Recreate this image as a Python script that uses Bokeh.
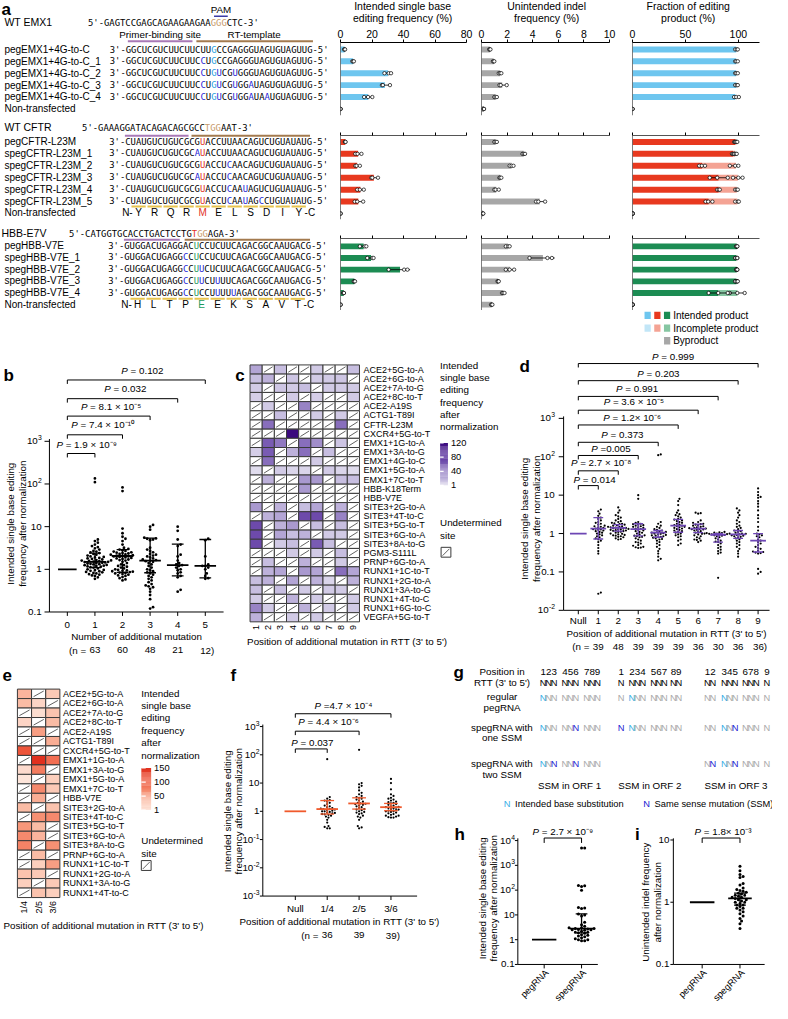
import math
from bokeh.plotting import figure
from bokeh.layouts import row, column
from bokeh.models import Range1d, FixedTicker, Label, Span, Spacer
from bokeh.embed import file_html
from bokeh.resources import INLINE

SX = 772 / 788
SY = 1003 / 1019
SANS = "Liberation Sans"
MONO = "DejaVu Sans Mono"
FS = "9.8px"

# ======================= DATA =======================
# ---- panel a: sequences ----
emx1_wt = "GAGTCCGAGCAGAAGAAGAAGGGCTC"
emx1_wt_marks = {20: "t", 21: "t", 22: "t"}
emx1_names = ["pegEMX1+4G-to-C", "pegEMX1+4G-to-C_1", "pegEMX1+4G-to-C_2",
              "pegEMX1+4G-to-C_3", "pegEMX1+4G-to-C_4", "Non-transfected"]
emx1_seqs = ["GGCUCGUCUUCUUCUUGCCGAGGGUAGUGUAGUUG", "GGCUCGUCUUCUUCCUGCCGAGGGUAGUGUAGUUG",
             "GGCUCGUCUUCUUCCUGUCGUGGGUAGUGUAGUUG", "GGCUCGUCUUCUUCCUGUCGUGGAUAGUGUAGUUG",
             "GGCUCGUCUUCUUCCUGUCGUGGAUAAUGUAGUUG"]
emx1_marks = [{16: "c"}, {14: "b", 16: "c"}, {14: "b", 16: "c", 17: "b", 20: "b"},
              {14: "b", 16: "c", 17: "b", 20: "b", 23: "b"},
              {14: "b", 16: "c", 17: "b", 20: "b", 23: "b", 26: "b"}]

cftr_wt = "GAAAGGATACAGACAGCGCCTGGAAT"
cftr_wt_marks = {20: "t", 21: "t", 22: "t"}
cftr_names = ["pegCFTR-L23M", "spegCFTR-L23M_1", "spegCFTR-L23M_2", "spegCFTR-L23M_3",
              "spegCFTR-L23M_4", "spegCFTR-L23M_5", "Non-transfected"]
cftr_seqs = ["CUAUGUCUGUCGCGUACCUUAACAGUCUGUAUAUG", "CUAUGUCUGUCGCAUACCUUAACAGUCUGUAUAUG",
             "CUAUGUCUGUCGCGUACCUCAACAGUCUGUAUAUG", "CUAUGUCUGUCGCAUACCUCAACAGUCUGUAUAUG",
             "CUAUGUCUGUCGCGUACCUCAAUAGUCUGUAUAUG", "CUAUGUCUGUCGCGUACCUCAAUAGCCUGUAUAUG"]
cftr_marks = [{14: "r"}, {13: "b", 14: "r"}, {14: "r", 19: "b"}, {13: "b", 14: "r", 19: "b"},
              {14: "r", 19: "b", 22: "b"}, {14: "r", 19: "b", 22: "b", 25: "b"}]
cftr_aa = ["Y", "R", "Q", "R", "M", "E", "L", "S", "D", "I", "Y"]

hbb_wt = "CATGGTGCACCTGACTCCTGTGGAGA"
hbb_wt_marks = {20: "r", 21: "t", 22: "t"}
hbb_names = ["pegHBB-V7E", "spegHBB-V7E_1", "spegHBB-V7E_2", "spegHBB-V7E_3",
             "spegHBB-V7E_4", "Non-transfected"]
hbb_seqs = ["GUGGACUGAGGACUCCUCUUCAGACGGCAAUGACG", "GUGGACUGAGGCCUCCUCUUCAGACGGCAAUGACG",
            "GUGGACUGAGGCCUUCUCUUCAGACGGCAAUGACG", "GUGGACUGAGGCCUUCUUUUCAGACGGCAAUGACG",
            "GUGGACUGAGGCCUCCUUUUUAGACGGCAAUGACG"]
hbb_marks = [{13: "g"}, {11: "b", 13: "g"}, {11: "b", 13: "g", 14: "b"},
             {11: "b", 13: "g", 14: "b", 17: "b"}, {11: "b", 13: "g", 17: "b", 20: "b"}]
hbb_aa = ["H", "L", "T", "P", "E", "E", "K", "S", "A", "V", "T"]

# ---- panel a: bar values ----
int_mean = [[2.6, 8.0, 30.2, 28.2, 17.6, 0.0],
            [3.0, 11.2, 10.6, 21.2, 12.6, 11.3, 0.0],
            [14.7, 19.4, 37.8, 8.8, 2.0, 0.0]]
int_reps = [[[2.3, 2.6, 2.9], [7.5, 8.0, 8.5], [27.9, 30.6, 32.1], [26.3, 26.9, 31.4], [15.0, 17.5, 20.2], [0, 0, 0]],
            [[2.8, 3.0, 3.2], [9.4, 10.8, 13.3], [9.4, 10.2, 12.3], [19.6, 20.2, 23.8], [10.6, 12.3, 14.8], [9.0, 10.6, 14.4], [0, 0, 0]],
            [[12.3, 15.4, 16.4], [17.0, 20.2, 21.0], [30.6, 40.4, 42.5], [8.4, 8.8, 9.2], [1.8, 2.0, 2.2], [0, 0, 0]]]
indel_mean = [[0.65, 0.95, 1.45, 1.62, 1.1, 0.18],
              [1.1, 3.3, 2.35, 1.47, 1.15, 4.55, 0.12],
              [2.07, 4.8, 2.22, 1.3, 1.7, 0.8]]
indel_reps = [[[0.6, 0.65, 0.7], [0.9, 0.95, 1.0], [1.35, 1.45, 1.55], [1.4, 1.5, 1.97], [1.0, 1.1, 1.2], [0.15, 0.18, 0.2]],
              [[1.0, 1.1, 1.2], [3.2, 3.3, 3.4], [2.2, 2.35, 2.5], [1.4, 1.45, 1.55], [1.0, 1.1, 1.35], [4.26, 4.44, 4.97], [0.1, 0.12, 0.14]],
              [[1.9, 2.1, 2.2], [3.75, 5.15, 5.5], [1.9, 2.2, 2.55], [1.25, 1.3, 1.35], [1.6, 1.7, 1.8], [0.75, 0.8, 0.85]]]
frac_int = [[98, 98, 98, 98, 97, 0], [97, 95, 65.7, 81.5, 81.5, 72, 0], [98.5, 98, 98.5, 98, 81, 0]]
frac_inc = [[0, 0, 0, 0.5, 1, 0], [1, 2, 32, 18, 17, 27, 0], [0, 0.5, 0, 0.5, 18, 0]]
frac_int_reps = [[[97, 98.5, 99.5], [97, 98, 99.5], [97, 98, 99.5], [97, 98.5, 99.5], [96, 98, 100.5], [0, 0, 0]],
                 [[96, 97, 98], [94, 95, 96.5], [63, 65.5, 68.5], [73, 80, 90], [80, 81.5, 82.5], [69, 71.5, 75.5], [0, 0, 0]],
                 [[98, 98.5, 99], [97, 98, 99], [98, 98.5, 99], [97, 98.5, 99], [72, 81, 92], [0, 0, 0]]]
frac_tot_reps = [None,
                 [[97, 98, 99], [96, 97.5, 98.5], [92, 97, 100], [95, 100, 104], [97, 98.5, 99.5], [97, 99.5, 100.5], [0, 0, 0]],
                 [[98, 98.5, 99], [97, 98.5, 99], [98, 98.5, 99], [97, 98.5, 99.5], [90, 99, 106], [0, 0, 0]]]

# ---- panel b ----
b_labels = ["0", "1", "2", "3", "4", "5"]
b_n = ["(n =", "63", "60", "48", "21", "12)"]
b_yticks = [0.1, 1, 10, 100, 1000]
b_ytl = [("0.1", ""), ("1", ""), ("10", ""), ("10", "2"), ("10", "3")]
b_vals = [
    [135, 110, 5.0, 4.6, 4.2, 3.8, 3.5, 3.3, 3.1, 2.9, 2.7, 2.6, 2.5, 2.4, 2.3, 2.2, 2.1, 2.0, 1.95, 1.9, 1.85,
     1.8, 1.75, 1.7, 1.65, 1.62, 1.6, 1.57, 1.55, 1.52, 1.5, 1.48, 1.45, 1.42, 1.4, 1.37, 1.35, 1.32, 1.3, 1.27,
     1.25, 1.22, 1.2, 1.17, 1.15, 1.12, 1.1, 1.05, 1.0, 0.97, 0.95, 0.92, 0.9, 0.87, 0.85, 0.82, 0.8, 0.77, 0.75,
     0.72, 0.7, 0.65, 0.6],
    [83, 68, 9.0, 7.0, 5.8, 5.2, 4.6, 3.8, 3.2, 3.0, 2.9, 2.8, 2.7, 2.6, 2.5, 2.45, 2.4, 2.35, 2.3, 2.25, 2.2,
     2.15, 2.1, 2.05, 2.0, 2.0, 1.95, 1.9, 1.85, 1.8, 1.75, 1.7, 1.65, 1.6, 1.5, 1.4, 1.3, 1.25, 1.2, 1.15, 1.1,
     1.05, 1.0, 0.97, 0.94, 0.92, 0.9, 0.88, 0.86, 0.84, 0.82, 0.8, 0.78, 0.75, 0.72, 0.7, 0.66, 0.62, 0.58, 0.55],
    [11, 10, 8.5, 5.5, 5.3, 5.2, 5.0, 4.8, 3.2, 2.9, 2.7, 2.5, 2.3, 2.2, 2.1, 2.0, 1.9, 1.8, 1.7, 1.65, 1.6,
     1.55, 1.5, 1.4, 1.3, 1.2, 1.1, 1.0, 0.95, 0.9, 0.85, 0.8, 0.75, 0.7, 0.65, 0.6, 0.55, 0.5, 0.45, 0.42, 0.4,
     0.38, 0.35, 0.3, 0.25, 0.2, 0.13, 0.12],
    [10, 8, 5, 3.8, 3.5, 2.2, 2.0, 1.6, 1.4, 1.3, 1.25, 1.2, 1.1, 1.0, 0.95, 0.85, 0.8, 0.7, 0.65, 0.33, 0.3],
    [5.2, 4.8, 2.0, 1.3, 1.2, 1.2, 1.1, 1.0, 0.8, 0.7, 0.62, 0.6],
]
b_med = [1.5, 2.05, 1.6, 1.25, 1.2]
b_lo = [1.1, 0.85, 0.83, 0.7, 0.63]
b_hi = [2.4, 2.9, 5.4, 3.9, 5.0]
b_p = ["0.102", "0.032", "8.1 × 10⁻⁵", "7.4 × 10⁻¹⁰", "1.9 × 10⁻⁹"]
b_p_to = [5, 4, 3, 2, 1]

# ---- panel c ----
c_names = ["ACE2+5G-to-A", "ACE2+6G-to-A", "ACE2+7A-to-G", "ACE2+8C-to-T", "ACE2-A19S", "ACTG1-T89I",
           "CFTR-L23M", "CXCR4+5G-to-T", "EMX1+1G-to-A", "EMX1+3A-to-G", "EMX1+4G-to-C", "EMX1+5G-to-A",
           "EMX1+7C-to-T", "HBB-K18Term", "HBB-V7E", "SITE3+2G-to-A", "SITE3+4T-to-C", "SITE3+5G-to-T",
           "SITE3+6G-to-A", "SITE3+8A-to-G", "PGM3-S111L", "PRNP+6G-to-A", "RUNX1+1C-to-T", "RUNX1+2G-to-A",
           "RUNX1+3A-to-G", "RUNX1+4T-to-C", "RUNX1+6G-to-C", "VEGFA+5G-to-T"]
N = None
c_vals = [
    [25, N, 15, N, N, 10, N, N, 15],
    [15, 20, N, 12, N, 10, 10, 12, N],
    [10, N, 12, 10, 15, N, 10, 10, 10],
    [8, N, N, 10, N, 8, N, N, 10],
    [N, 10, N, N, 40, N, N, N, N],
    [N, N, 15, N, N, 10, N, 10, N],
    [N, 50, N, N, N, N, N, 50, N],
    [N, N, N, 120, N, N, N, N, N],
    [N, 60, 45, N, 50, 35, N, 12, N],
    [8, 60, N, 20, 50, N, 15, N, N],
    [N, 50, N, N, N, 10, N, N, N],
    [2, N, 10, 5, 5, N, 10, 5, 2],
    [N, 20, N, N, 30, 30, N, 15, 15],
    [N, N, N, N, 30, N, N, N, N],
    [N, N, N, N, N, N, N, N, N],
    [30, N, 20, N, 15, 25, N, 20, N],
    [N, 20, 25, N, 70, 70, N, 40, N],
    [70, N, 20, 30, N, 15, N, 15, N],
    [70, N, 25, 15, 20, N, 10, 10, N],
    [70, N, 10, 15, N, 60, 15, N, N],
    [N, N, N, 10, N, 10, N, 15, N],
    [N, 15, N, N, 20, N, N, 10, N],
    [N, 20, 25, N, 30, 25, N, 50, 25],
    [15, 20, N, 25, N, 20, 5, N, 20],
    [15, N, 15, N, 10, N, 10, 10, N],
    [10, N, N, 20, N, 10, N, N, 10],
    [40, 10, N, N, 20, N, 10, N, 10],
    [20, N, N, 10, N, 10, N, N, N],
]
c_cols = ["1", "2", "3", "4", "5", "6", "7", "8", "9"]
c_ticks = [1, 40, 80, 120]

# ---- panel d ----
d_labels = ["Null", "1", "2", "3", "4", "5", "6", "7", "8", "9"]
d_n = ["(n =", "39", "48", "39", "39", "39", "36", "30", "36", "36)"]
d_yticks = [0.01, 0.1, 1, 10, 100, 1000]
d_ytl = [("10", "-2"), ("0.1", ""), ("1", ""), ("10", ""), ("10", "2"), ("10", "3")]
d_vals = [
    [4.2, 3.8, 3.3, 2.9, 2.6, 2.4, 2.2, 2.0, 1.9, 1.8, 1.7, 1.6, 1.55, 1.5, 1.45, 1.4, 1.35, 1.3, 1.28, 1.25, 1.2,
     1.15, 1.1, 1.05, 1.0, 0.95, 0.9, 0.85, 0.8, 0.75, 0.7, 0.65, 0.6, 0.5, 0.42, 0.35, 0.3, 0.029, 0.027],
    [4.8, 4.0, 3.5, 3.0, 2.8, 2.6, 2.4, 2.2, 2.1, 2.0, 1.9, 1.85, 1.8, 1.75, 1.7, 1.65, 1.6, 1.55, 1.5, 1.48,
     1.45, 1.42, 1.4, 1.38, 1.35, 1.32, 1.3, 1.28, 1.25, 1.22, 1.2, 1.18, 1.15, 1.12, 1.1, 1.05, 1.0, 0.98, 0.95,
     0.92, 0.9, 0.88, 0.85, 0.82, 0.8, 0.75, 0.72, 0.7],
    [10, 8, 2.0, 1.9, 1.8, 1.75, 1.7, 1.65, 1.6, 1.55, 1.5, 1.45, 1.4, 1.35, 1.3, 1.25, 1.2, 1.15, 1.1, 1.05, 1.0,
     0.95, 0.9, 0.88, 0.85, 0.82, 0.8, 0.75, 0.7, 0.65, 0.6, 0.58, 0.55, 0.5, 0.48, 0.45, 0.44, 0.43, 0.42],
    [115, 110, 2.0, 1.8, 1.6, 1.5, 1.4, 1.3, 1.25, 1.2, 1.15, 1.1, 1.08, 1.05, 1.02, 1.0, 0.98, 0.95, 0.92, 0.9,
     0.88, 0.85, 0.82, 0.8, 0.78, 0.75, 0.72, 0.7, 0.65, 0.6, 0.55, 0.5, 0.45, 0.4, 0.35, 0.3, 0.25, 0.22, 0.2],
    [8, 7, 5.5, 4, 3.5, 3.2, 3.0, 2.8, 2.6, 2.4, 2.3, 2.2, 2.1, 2.0, 1.9, 1.8, 1.7, 1.65, 1.6, 1.55, 1.5, 1.45,
     1.4, 1.35, 1.3, 1.25, 1.2, 1.15, 1.1, 1.05, 1.0, 0.95, 0.9, 0.85, 0.8, 0.7, 0.65, 0.55, 0.5],
    [3.5, 3.4, 3.3, 2.2, 2.0, 1.9, 1.8, 1.75, 1.7, 1.65, 1.6, 1.55, 1.5, 1.45, 1.4, 1.38, 1.35, 1.32, 1.3, 1.28,
     1.25, 1.2, 1.15, 1.1, 1.05, 1.0, 0.98, 0.95, 0.9, 0.85, 0.8, 0.75, 0.7, 0.68, 0.65, 0.6],
    [1.1, 1.08, 1.05, 1.03, 1.02, 1.0, 1.0, 0.98, 0.97, 0.95, 0.93, 0.92, 0.9, 0.88, 0.85, 0.8, 0.75, 0.7, 0.65,
     0.62, 0.6, 0.55, 0.5, 0.45, 0.42, 0.38, 0.35, 0.32, 0.3, 0.07],
    [4.5, 4.0, 3.5, 3.0, 2.6, 2.2, 2.0, 1.8, 1.6, 1.5, 1.4, 1.3, 1.2, 1.15, 1.1, 1.05, 1.0, 0.98, 0.95, 0.92, 0.9,
     0.88, 0.85, 0.82, 0.8, 0.75, 0.7, 0.65, 0.6, 0.55, 0.5, 0.45, 0.4, 0.35, 0.3, 0.25],
    [15, 12, 10, 9, 8.5, 7, 6, 5, 4, 3, 2.5, 2.0, 1.5, 1.2, 1.0, 0.95, 0.9, 0.85, 0.8, 0.7, 0.65, 0.6, 0.55, 0.5,
     0.45, 0.42, 0.4, 0.36, 0.34, 0.33, 0.32, 0.31, 0.3, 0.12, 0.1, 0.09],
]
d_med = [1.35, 1.4, 1.3, 1.05, 1.6, 1.35, 0.93, 0.95, 0.65]
d_lo = [0.72, 1.15, 0.87, 0.8, 1.08, 1.05, 0.6, 0.75, 0.33]
d_hi = [2.6, 1.7, 1.8, 1.2, 2.35, 1.75, 1.0, 1.2, 1.0]
d_p = ["0.999", "0.203", "0.991", "3.6 × 10⁻⁵", "1.2× 10⁻⁶", "0.373", "0.005", "2.7 × 10⁻⁸", "0.014"]
d_p_eq = [" = ", " = ", " = ", " = ", " = ", " = ", " =", " = ", " = "]
d_p_to = [9, 8, 7, 6, 5, 4, 3, 2, 1]

# ---- panel e ----
e_names = ["ACE2+5G-to-A", "ACE2+6G-to-A", "ACE2+7A-to-G", "ACE2+8C-to-T", "ACE2-A19S", "ACTG1-T89I",
           "CXCR4+5G-to-T", "EMX1+1G-to-A", "EMX1+3A-to-G", "EMX1+5G-to-A", "EMX1+7C-to-T", "HBB-V7E",
           "SITE3+2G-to-A", "SITE3+4T-to-C", "SITE3+5G-to-T", "SITE3+6G-to-A", "SITE3+8A-to-G", "PRNP+6G-to-A",
           "RUNX1+1C-to-T", "RUNX1+2G-to-A", "RUNX1+3A-to-G", "RUNX1+4T-to-C"]
e_vals = [[40, N, 25], [35, 15, N], [N, 8, 30], [15, N, 35], [N, 55, N], [N, N, 45], [110, N, N],
          [N, 150, 90], [10, 80, N], [1, N, 20], [N, 70, 25], [N, 45, N], [35, N, 30], [N, 65, 70],
          [60, 35, N], [70, 40, N], [75, N, 65], [N, 35, N], [N, 20, 55], [30, 25, N], [20, N, 25], [N, 30, 20]]
e_cols = ["1/4", "2/5", "3/6"]
e_ticks = [1, 50, 100, 150]

# ---- panel f ----
f_labels = ["Null", "1/4", "2/5", "3/6"]
f_n = ["(n =", "36", "39", "39)"]
f_yticks = [0.001, 0.01, 0.1, 1, 10, 100, 1000]
f_ytl = [("10", "-3"), ("10", "-2"), ("10", "-1"), ("1", ""), ("10", ""), ("10", "2"), ("10", "3")]
f_vals = [
    [70, 3.2, 2.8, 2.5, 2.4, 2.2, 2.0, 1.8, 1.6, 1.5, 1.4, 1.3, 1.25, 1.2, 1.2, 1.15, 1.1, 1.05, 1.0, 1.0, 0.95,
     0.9, 0.88, 0.85, 0.8, 0.78, 0.75, 0.7, 0.65, 0.6, 0.5, 0.4, 0.3, 0.25, 0.25, 0.28],
    [150, 10, 9, 8, 7, 5.5, 4.5, 4, 3.5, 3.2, 3.0, 2.8, 2.6, 2.4, 2.2, 2.0, 1.9, 1.85, 1.8, 1.7, 1.6, 1.5, 1.4,
     1.3, 1.2, 1.15, 1.1, 1.0, 0.95, 0.9, 0.85, 0.8, 0.7, 0.65, 0.6, 0.5, 0.3, 0.25, 0.27],
    [14, 10, 6, 4, 3.5, 3, 2.8, 2.6, 2.4, 2.2, 2.1, 2.0, 1.9, 1.8, 1.7, 1.6, 1.5, 1.45, 1.4, 1.35, 1.3, 1.25,
     1.2, 1.15, 1.1, 1.05, 1.0, 1.0, 0.95, 0.9, 0.85, 0.8, 0.75, 0.7, 0.7, 0.65, 0.6, 0.6, 0.62],
]
f_med = [1.2, 1.9, 1.4]
f_lo = [0.8, 1.2, 1.05]
f_hi = [2.4, 3.0, 1.9]
f_p = ["0.037", "4.4 × 10⁻⁶", "4.7 × 10⁻⁴"]
f_p_eq = [" = ", " = ", " ="]
f_p_to = [1, 2, 3]

# ---- panel g ----
g_pos = [["123", "456", "789"], ["1", "234", "567", "89"], ["12", "345", "678", "9"]]
g_regular = [["cgg", "ggg", "ggg"], ["g", "cgg", "ggg", "gg"], ["gg", "cgg", "ggg", "g"]]
g_one = [["cgg", "ggb", "ggg"], ["b", "cgg", "ggg", "gg"], ["gg", "cgb", "ggg", "g"]]
g_two = [["cgb", "ggb", "ggg"], None, ["gb", "cgb", "ggg", "g"]]

# ---- panels h, i ----
hi_labels = ["pegRNA", "spegRNA"]
h_yticks = [0.1, 1, 10, 100, 1000, 10000]
h_ytl = [("0.1", ""), ("1", ""), ("10", ""), ("10", "2"), ("10", "3"), ("10", "4")]
h_vals = [5000, 5000, 155, 150, 140, 100, 20, 19, 18, 11, 10, 9, 5, 4, 3.5, 3.0, 3.0, 2.8, 2.8, 2.7, 2.6, 2.5,
          2.5, 2.4, 2.2, 2.0, 2.0, 1.9, 1.8, 1.6, 1.5, 1.4, 1.3, 1.2, 1.1, 1.0, 1.0, 0.9, 0.9]
h_med, h_lo, h_hi = [2.8], [1.9], [11]
i_yticks = [0.1, 1, 10]
i_ytl = [("0.1", ""), ("1", ""), ("10", "")]
i_vals = [3.8, 3.2, 2.8, 2.6, 2.5, 2.0, 1.9, 1.7, 1.6, 1.55, 1.5, 1.45, 1.4, 1.35, 1.3, 1.3, 1.25, 1.2, 1.2,
          1.15, 1.1, 1.1, 1.05, 1.0, 1.0, 0.95, 0.9, 0.9, 0.85, 0.8, 0.8, 0.75, 0.7, 0.65, 0.6, 0.55, 0.5, 0.45,
          0.38]
i_med, i_lo, i_hi = [1.15], [0.9], [1.4]

# ======================= STYLE / HELPERS =======================
CMAP = {"c": "#1f9fe0", "b": "#1f1fd6", "r": "#e2321f", "g": "#1d9a5b", "t": "#c79a6b"}
BLUE, RED, GREEN = "#6ec6ef", "#e8391f", "#1c8c53"
BLUE_L, RED_L, GREEN_L = "#c2e6f7", "#f4a394", "#86c6a2"
GRAY = "#a7a7a7"
PURPLE = "#6d46b4"
ORANGE = "#f05a2c"
PURPLES = [(0, "#e4e0ef"), (0.1, "#cdc5e3"), (0.25, "#a999cf"), (0.45, "#8165b8"), (0.7, "#5b339f"), (1.0, "#3b0a7e")]
REDS = [(0, "#fde6dc"), (0.2, "#fbc3ae"), (0.4, "#f7977a"), (0.7, "#ef5a3e"), (1.0, "#e0301e")]


def interp(stops, t):
    t = max(0.0, min(1.0, t))
    for (t0, c0), (t1, c1) in zip(stops, stops[1:]):
        if t <= t1:
            u = (t - t0) / (t1 - t0)
            a = [int(c0[k:k + 2], 16) for k in (1, 3, 5)]
            b = [int(c1[k:k + 2], 16) for k in (1, 3, 5)]
            return "#%02x%02x%02x" % tuple(round(a[k] + u * (b[k] - a[k])) for k in range(3))
    return stops[-1][1]


def style_axis(ax, size="10px"):
    ax.axis_line_color = "black"
    ax.axis_line_width = 1
    ax.major_tick_line_color = "black"
    ax.minor_tick_line_color = None
    ax.major_tick_in = 0
    ax.major_tick_out = 4
    ax.major_label_text_font = SANS
    ax.major_label_text_font_size = size
    ax.major_label_text_color = "black"
    ax.major_label_standoff = 3


class F:
    def __init__(self, box, frame, xr, yr, ylog=False, xloc=None, yloc=None):
        x1, y1, x2, y2 = box
        fx1, fy1, fx2, fy2 = frame
        self.frame, self.xr, self.yr, self.ylog = frame, xr, yr, ylog
        self.p = figure(width=round(x2 * SX) - round(x1 * SX), height=round(y2 * SY) - round(y1 * SY),
                        x_range=Range1d(*xr), y_range=Range1d(*yr),
                        y_axis_type="log" if ylog else "linear",
                        x_axis_location=xloc, y_axis_location=yloc,
                        output_backend="svg", toolbar_location=None,
                        min_border_left=round(fx1 * SX) - round(x1 * SX),
                        min_border_right=round(x2 * SX) - round(fx2 * SX),
                        min_border_top=round(fy1 * SY) - round(y1 * SY),
                        min_border_bottom=round(y2 * SY) - round(fy2 * SY))
        self.p.outline_line_color = None
        self.p.background_fill_color = "white"
        self.p.border_fill_color = "white"
        for g in self.p.grid:
            g.visible = False
        for ax in self.p.axis:
            style_axis(ax)

    def X(self, px):
        fx1, fy1, fx2, fy2 = self.frame
        a, b = self.xr
        return a + (px - fx1) / (fx2 - fx1) * (b - a)

    def Y(self, py):
        fx1, fy1, fx2, fy2 = self.frame
        a, b = self.yr
        t = (fy2 - py) / (fy2 - fy1)
        if self.ylog:
            la, lb = math.log10(a), math.log10(b)
            return 10 ** (la + t * (lb - la))
        return a + t * (b - a)

    def pyv(self, v):
        fx1, fy1, fx2, fy2 = self.frame
        a, b = self.yr
        if self.ylog:
            a, b, v = math.log10(a), math.log10(b), math.log10(v)
        return fy2 - (v - a) / (b - a) * (fy2 - fy1)

    def kx(self):
        fx1, fy1, fx2, fy2 = self.frame
        return (self.xr[1] - self.xr[0]) / (fx2 - fx1)

    def ppd(self):
        fx1, fy1, fx2, fy2 = self.frame
        return (fy2 - fy1) / (math.log10(self.yr[1]) - math.log10(self.yr[0]))

    def text(self, px, py, s, size=FS, align="left", base="middle", color="black",
             style="normal", angle=0.0, font=SANS):
        self.textd(self.X(px), self.Y(py), s, size, align, base, color, style, angle, font)

    def textd(self, x, y, s, size=FS, align="left", base="middle", color="black",
              style="normal", angle=0.0, font=SANS):
        self.p.add_layout(Label(x=x, y=y, text=s, text_font=font, text_font_size=size,
                                text_align=align, text_baseline=base, text_color=color,
                                text_font_style=style, angle=angle))

    def line(self, pxs, pys, color="black", width=1.0):
        self.p.line(x=[self.X(v) for v in pxs], y=[self.Y(v) for v in pys],
                    line_color=color, line_width=width)

    def quadpx(self, x1, y1, x2, y2, color, line=None):
        self.p.quad(left=[self.X(x1)], right=[self.X(x2)], top=[self.Y(y1)], bottom=[self.Y(y2)],
                    fill_color=color, line_color=line, line_width=1)


def P2(box, area, xr, yr, ylog=False):
    """Figure whose frame is the whole box; ranges extended so `area` shows xr/yr."""
    x1, y1, x2, y2 = box
    ax1, ay1, ax2, ay2 = area
    kx = (xr[1] - xr[0]) / (ax2 - ax1)
    fxr = (xr[0] - (ax1 - x1) * kx, xr[1] + (x2 - ax2) * kx)
    a, b = (math.log10(yr[0]), math.log10(yr[1])) if ylog else yr
    ky = (b - a) / (ay2 - ay1)
    fa, fb = a - (y2 - ay2) * ky, b + (ay1 - y1) * ky
    fyr = (10 ** fa, 10 ** fb) if ylog else (fa, fb)
    return F(box, box, fxr, fyr, ylog)


def tw(s, size):
    w = 0.0
    for ch in s:
        if ch in " .":
            w += 0.278
        elif ch in "=×":
            w += 0.584
        elif ch == "-":
            w += 0.333
        elif ch in "⁰¹²³⁴⁵⁶⁷⁸⁹⁻":
            w += 0.36
        else:
            w += 0.556
    return w * size


def ptext(Fg, cx, cy, eq, val, size=9.8):
    rest = eq.lstrip() + val
    lead = 0.278 * size if eq.startswith(" ") else 0.0
    wp = 0.667 * size
    wref = (wp + lead + tw(rest, size)) / SX
    left = cx - wref / 2
    Fg.text(left, cy, "P", size=f"{size}px", style="italic")
    Fg.text(left + (wp + lead) / SX, cy, rest, size=f"{size}px")


def bracket(Fg, xa, xb, py, drop=4):
    y0, y1 = Fg.Y(py), Fg.Y(py + drop)
    Fg.p.line(x=[xa, xa, xb, xb], y=[y1, y0, y0, y1], line_color="black", line_width=1)


def swarm(vals, ppd, dd):
    ys = [math.log10(v) * ppd for v in vals]
    order = sorted(range(len(vals)), key=lambda i: ys[i])
    placed = []
    xs = [0.0] * len(vals)
    step = dd * 0.5
    for i in order:
        y = ys[i]
        near = [(a, b) for a, b in placed if abs(b - y) < dd]
        k = 0
        found = None
        while found is None:
            for c in ([0.0] if k == 0 else [k * step, -k * step]):
                if all((c - a) ** 2 + (y - b) ** 2 >= dd * dd * 0.9 for a, b in near):
                    found = c
                    break
            k += 1
        xs[i] = found
        placed.append((found, y))
    return xs


def dotplot(Fg, groups, med, lo, hi, color, dot=2.6, dd=3.0, medw=11, capw=6, null_w=10):
    kx = Fg.kx()
    ppd = Fg.ppd()
    xs, ys = [], []
    for gi, vals in enumerate(groups):
        offs = swarm(vals, ppd, dd)
        xs += [gi + 1 + o * kx for o in offs]
        ys += vals
    Fg.p.scatter(x=xs, y=ys, size=dot, marker="circle", fill_color="black", line_color=None)
    cx = list(range(1, len(groups) + 1))
    Fg.p.segment(x0=[c - medw * kx for c in cx], y0=med, x1=[c + medw * kx for c in cx], y1=med,
                 line_color=color, line_width=1.8)
    Fg.p.segment(x0=cx, y0=lo, x1=cx, y1=hi, line_color=color, line_width=1.3)
    for arr in (lo, hi):
        Fg.p.segment(x0=[c - capw * kx for c in cx], y0=arr, x1=[c + capw * kx for c in cx], y1=arr,
                     line_color=color, line_width=1.3)
    Fg.p.segment(x0=[-null_w * kx], y0=[1], x1=[null_w * kx], y1=[1], line_color=color, line_width=1.8)


def sc_axes(Fg, yt, ytl, ax_x, ytop, ncat, ax_y, xfrom, xto, xl=None, xl_y=None, tick=4, gap=8):
    xa = Fg.X(ax_x)
    Fg.p.segment(x0=[xa], y0=[yt[0]], x1=[xa], y1=[Fg.Y(ytop)], line_color="black", line_width=1)
    Fg.p.segment(x0=[Fg.X(ax_x - tick)] * len(yt), y0=yt, x1=[xa] * len(yt), y1=yt,
                 line_color="black", line_width=1)
    for t, (base, ex) in zip(yt, ytl):
        py = Fg.pyv(t)
        right = ax_x - gap
        if ex:
            ew = tw(ex, 6.8) / SX
            Fg.text(right - ew, py, base, align="right")
            Fg.text(right - ew + 0.3, py - 3.6, ex, size="6.8px")
        else:
            Fg.text(right, py, base, align="right")
    Fg.line([xfrom, xto], [ax_y, ax_y])
    cats = list(range(ncat))
    Fg.p.segment(x0=cats, y0=[Fg.Y(ax_y)] * ncat, x1=cats, y1=[Fg.Y(ax_y + 4)] * ncat,
                 line_color="black", line_width=1)
    if xl:
        for k, s in enumerate(xl):
            Fg.textd(k, Fg.Y(xl_y), s, align="center")


def nlabels(Fg, labels, py):
    kx = Fg.kx()
    y = Fg.Y(py)
    Fg.textd(1 - 9 * kx, y, labels[0], align="right")
    for k in range(1, len(labels) - 1):
        Fg.textd(k, y, labels[k], align="center")
    Fg.textd(len(labels) - 1 + 2 * kx, y, labels[-1], align="center")


def heatmap(Fg, vals, names, stops, vmax, label_px, cols, col_py):
    xs, ys, cs = [], [], []
    s0, s1, s2, s3 = [], [], [], []
    for r, rv in enumerate(vals):
        for c, v in enumerate(rv):
            xs.append(c + 1)
            ys.append(r)
            if v is None:
                cs.append("white")
                s0.append(c + 1 - 0.36); s1.append(r + 0.3); s2.append(c + 1 + 0.36); s3.append(r - 0.3)
            else:
                cs.append(interp(stops, v / vmax))
    Fg.p.rect(x=xs, y=ys, width=1, height=1, fill_color=cs, line_color="#3a3a3a", line_width=1)
    Fg.p.segment(x0=s0, y0=s1, x1=s2, y1=s3, line_color="#3a3a3a", line_width=0.8)
    for r, nm in enumerate(names):
        Fg.textd(Fg.X(label_px), r, nm, size="9px")
    for k, s in enumerate(cols):
        Fg.textd(k + 1, Fg.Y(col_py), s, size="9px", align="right", angle=math.pi / 2)


def colorbar(Fg, x1, x2, ytop, ybot, vmax, stops, ticks):
    n = 40
    for k in range(n):
        v0 = 1 + (vmax - 1) * k / n
        v1 = 1 + (vmax - 1) * (k + 1) / n
        ya = ybot - (v0 - 1) / (vmax - 1) * (ybot - ytop)
        yb = ybot - (v1 - 1) / (vmax - 1) * (ybot - ytop)
        Fg.quadpx(x1, yb, x2, ya, interp(stops, (v0 + v1) / 2 / vmax))
    for t in ticks:
        py = ybot - (t - 1) / (vmax - 1) * (ybot - ytop)
        Fg.line([x1, x1 + (x2 - x1) * 0.45], [py, py], color="white", width=1.2)
        Fg.text(x2 + 3, py, str(t), size="9.3px")


def undetermined(Fg, x, y, w=10, h=10):
    Fg.quadpx(x, y, x + w, y + h, "white", line="#3a3a3a")
    Fg.line([x + 1.5, x + w - 1.5], [y + h - 1.5, y + 1.5], color="#3a3a3a", width=0.8)


# ======================= PANEL a =======================
A = F((0, 0, 341, 353), (0, 0, 341, 353), (0, 341), (353, 0))
A.text(1, 9, "a", size="17px", style="bold")
A.text(225, 9, "PAM", align="center")
A.line([218, 232], [16, 16], color="#3b3ba5", width=1.5)
CW = 5.45
MFS = f"{CW * SX / 0.6021:.2f}px"


def seq(x0, y, pre, core, marks, suf):
    full = pre + core + suf
    cols = ["black"] * len(full)
    for i, c in marks.items():
        cols[len(pre) + i] = CMAP[c]
    i = 0
    while i < len(full):
        j = i
        while j < len(full) and cols[j] == cols[i]:
            j += 1
        A.text(x0 + CW * i, y, full[i:j], size=MFS, font=MONO, color=cols[i])
        i = j


groups = [
    dict(title="WT EMX1", tx=4, ty=22, wt=emx1_wt, wtm=emx1_wt_marks, wx=89.3, pbs=(130, 196), rt=(200, 319),
         ly=41.5, names=emx1_names, seqs=emx1_seqs, marks=emx1_marks, y0=50, dy=12, x0=111.5, aa=None),
    dict(title="WT CFTR", tx=4, ty=129, wt=cftr_wt, wtm=cftr_wt_marks, wx=83.3, pbs=(127, 192), rt=(195, 316),
         ly=137.5, names=cftr_names, seqs=cftr_seqs, marks=cftr_marks, y0=143.5, dy=12.1, x0=111,
         aa=cftr_aa, aac=CMAP["r"], cody=209.5),
    dict(title="HBB-E7V", tx=1, ty=237, wt=hbb_wt, wtm=hbb_wt_marks, wx=70, pbs=(126, 183), rt=(188, 316),
         ly=243.5, names=hbb_names, seqs=hbb_seqs, marks=hbb_marks, y0=249.5, dy=11.9, x0=110,
         aa=hbb_aa, aac=CMAP["g"], cody=303.5),
]
for gd in groups:
    A.text(gd["tx"], gd["ty"], gd["title"], size="10.5px")
    seq(gd["wx"], gd["ty"] + 1, "5'-", gd["wt"], gd["wtm"], "-3'")
    A.line(list(gd["pbs"]), [gd["ly"], gd["ly"]], color="#a879b6", width=2)
    A.line(list(gd["rt"]), [gd["ly"], gd["ly"]], color="#a37a4e", width=2)
    for k, nm in enumerate(gd["names"]):
        A.text(4, gd["y0"] + gd["dy"] * k, nm, size="10px")
    for k, s in enumerate(gd["seqs"]):
        seq(gd["x0"], gd["y0"] + gd["dy"] * k, "3'-", s, gd["marks"][k], "-5'")
    if gd["aa"]:
        yrow = gd["y0"] + gd["dy"] * (len(gd["names"]) - 1)
        x0 = gd["x0"]
        for k, aa in enumerate(gd["aa"]):
            xa = x0 + CW * (3 + 1 + 3 * k) + 0.9
            xb = x0 + CW * (3 + 4 + 3 * k) - 0.9
            A.line([xa, xb], [gd["cody"], gd["cody"]], color="#e7c34d", width=2)
            cx = x0 + CW * (3 + 2 + 3 * k + 0.5)
            A.text(cx, yrow, aa, size="10px", align="center", color=gd["aac"] if k == 4 else "black")
        A.text(x0 + CW * 5.5 - 6, yrow, "N-", size="10px", align="right")
        A.text(x0 + CW * (5.5 + 30) + 6, yrow, "-C", size="10px")
A.text(163, 35, "Primer-binding site", align="center")
A.text(259, 35, "RT-template", align="center")

# header
HD = F((341, 0, 788, 25), (341, 0, 788, 25), (341, 788), (25, 0))
for cx, l1, l2 in [(410.5, "Intended single base", "editing frequency (%)"),
                   (557.5, "Unintended indel", "frequency (%)"),
                   (702, "Fraction of editing", "product (%)")]:
    HD.text(cx, 5.5, l1, size="10.5px", align="center")
    HD.text(cx, 17, l2, size="10.5px", align="center")

bar_cols = [dict(x1=341, x2=485, fx1=347, fx2=476, xmax=80, ticks=[0, 20, 40, 60, 80]),
            dict(x1=485, x2=635, fx1=491, fx2=621.7, xmax=10, ticks=[0, 2, 4, 6, 8, 10]),
            dict(x1=635, x2=788, fx1=645, fx2=775, xmax=120, ticks=[0, 50, 100])]
bar_grps = [dict(y1=25, y2=120, fy1=43, fy2=116.6, yr=(5.55, -0.58)),
            dict(y1=120, y2=226, fy1=137, fy2=222.2, yr=(6.5, -0.537)),
            dict(y1=226, y2=315, fy1=241.5, fy2=314.9, yr=(5.5, -0.67))]
grp_color = [BLUE, RED, GREEN]
grp_light = [BLUE_L, RED_L, GREEN_L]


def sd(v):
    m = sum(v) / len(v)
    return math.sqrt(sum((x - m) ** 2 for x in v) / (len(v) - 1))


def bar_fig(ci, gi):
    c, g = bar_cols[ci], bar_grps[gi]
    Fg = F((c["x1"], g["y1"], c["x2"], g["y2"]), (c["fx1"], g["fy1"], c["fx2"], g["fy2"]),
           (0, c["xmax"]), g["yr"], xloc="above")
    ax = Fg.p.xaxis[0]
    ax.ticker = FixedTicker(ticks=c["ticks"])
    ax.major_tick_out = 3
    ax.major_label_standoff = 2
    ax.axis_line_color = "#555555" if gi else "black"
    ax.major_label_text_font_size = "10.5px" if gi == 0 else "0px"
    Fg.p.add_layout(Span(location=0, dimension="height", line_color="black", line_width=1))
    return Fg


def draw_bars(Fg, means, reps, color, inc=None, inc_color=None, tot=None):
    ys = list(range(len(means)))
    Fg.p.hbar(y=ys, left=0, right=means, height=0.5, fill_color=color, line_color=None)
    if inc:
        Fg.p.hbar(y=ys, left=means, right=[m + i for m, i in zip(means, inc)], height=0.5,
                  fill_color=inc_color, line_color=None)
    for rs in [reps] + ([tot] if tot else []):
        lo = [sum(r) / len(r) - sd(r) for r in rs]
        hi = [sum(r) / len(r) + sd(r) for r in rs]
        Fg.p.segment(x0=lo, y0=ys, x1=hi, y1=ys, line_color="black", line_width=0.8)
        Fg.p.scatter(x=[v for r in rs for v in r], y=[k for k, r in enumerate(rs) for v in r], size=3.4,
                     marker="circle", fill_color="white", line_color="black", line_width=0.7)


bar_columns = []
for ci in range(3):
    figs = []
    for gi in range(3):
        Fg = bar_fig(ci, gi)
        if ci == 0:
            draw_bars(Fg, int_mean[gi], int_reps[gi], grp_color[gi])
        elif ci == 1:
            draw_bars(Fg, indel_mean[gi], indel_reps[gi], GRAY)
        else:
            draw_bars(Fg, frac_int[gi], frac_int_reps[gi], grp_color[gi], inc=frac_inc[gi],
                      inc_color=grp_light[gi], tot=frac_tot_reps[gi])
        figs.append(Fg.p)
    if ci < 2:
        c = bar_cols[ci]
        figs.append(Spacer(width=round(c["x2"] * SX) - round(c["x1"] * SX),
                           height=round(353 * SY) - round(315 * SY)))
    else:
        LG = F((635, 315, 788, 353), (635, 315, 788, 353), (635, 788), (353, 315))
        for k, colr in enumerate([BLUE, RED, GREEN]):
            LG.quadpx(649.5 + 11.7 * k, 316.3, 657 + 11.7 * k, 323.8, colr)
        for k, colr in enumerate([BLUE_L, RED_L, GREEN_L]):
            LG.quadpx(649.5 + 11.7 * k, 329.3, 657 + 11.7 * k, 336.8, colr)
        LG.quadpx(673, 342.3, 680.5, 349.8, GRAY)
        LG.text(684, 320, "Intended product", size="10px")
        LG.text(684, 333, "Incomplete product", size="10px")
        LG.text(684, 346, "Byproduct", size="10px")
        figs.append(LG.p)
    bar_columns.append(column(*figs))

bandA = row(A.p, column(HD.p, row(*bar_columns)))

# ======================= PANEL b =======================
B = P2((0, 353, 232, 672), (50, 448.3, 228, 621.7), (-0.649, 5.663), (0.1, 1000), ylog=True)
sc_axes(B, b_yticks, b_ytl, 50, 446, 6, 621.7, 50, 228, b_labels, 635, tick=5, gap=8)
B.text(139, 647, "Number of additional mutation", align="center")
nlabels(B, b_n, 660.5)
dotplot(B, b_vals, b_med, b_lo, b_hi, "black", dot=2.8, dd=3.0, medw=11, capw=6, null_w=9.5)
B.text(3, 381, "b", size="17px", style="bold")
B.text(10, 532, "Intended single base editing", align="center", angle=math.pi / 2)
B.text(22, 532, "frequency after normalization", align="center", angle=math.pi / 2)
for py, tx, ty, k, txt in zip([386, 405, 422.7, 441.7, 460.7], [145, 127.5, 113, 105, 88],
                              [376, 395, 412.7, 431.7, 451.7], b_p_to, b_p):
    bracket(B, 0, k, py)
    ptext(B, tx, ty, " = ", txt)

# ======================= PANEL c =======================
C = P2((232, 353, 528, 672), (255, 370.7, 366.7, 631.7), (0.5, 9.5), (27.5, -0.5))
heatmap(C, c_vals, c_names, PURPLES, 120, 370.7, c_cols, 635)
C.text(240, 381, "c", size="17px", style="bold")
C.text(252, 652, "Position of additional mutation in RTT (3' to 5')")
for k, s in enumerate(["Intended", "single base", "editing", "frequency", "after", "normalization"]):
    C.text(449, 371 + 12.5 * k, s)
colorbar(C, 449, 457, 450, 493, 120, PURPLES, c_ticks)
C.text(449, 531, "Undetermined")
C.text(449, 543.5, "site")
undetermined(C, 450, 556)

# ======================= PANEL d =======================
D = P2((528, 353, 788, 672), (575, 425, 785, 620), (-0.736, 9.574), (0.01, 1000), ylog=True)
sc_axes(D, d_yticks, d_ytl, 575, 423, 10, 620, 575, 785, d_labels, 630.5, tick=5, gap=9)
D.text(680, 643.5, "Position of additional mutation in RTT (3' to 5')", align="center")
nlabels(D, d_n, 657)
dotplot(D, d_vals, d_med, d_lo, d_hi, PURPLE, dot=2.2, dd=2.6, medw=8, capw=5, null_w=8.5)
D.text(530, 372, "d", size="17px", style="bold")
D.text(535.5, 527, "Intended single base editing", align="center", angle=math.pi / 2)
D.text(547, 527, "frequency after normalization", align="center", angle=math.pi / 2)
for py, tx, ty, k, eq, txt in zip([369.3, 386.7, 402.7, 416.7, 431.7, 449.3, 462.7, 478.3, 493.3],
                                  [686.7, 671.7, 650, 646.7, 645, 635, 623.3, 613.3, 606.7],
                                  [361.7, 379, 394.3, 408.3, 424.3, 441.7, 456, 470, 486.7],
                                  d_p_to, d_p_eq, d_p):
    bracket(D, 0, k, py)
    ptext(D, tx, ty, eq, txt)

bandB = row(B.p, C.p, D.p)

# ======================= PANEL e =======================
E = P2((0, 672, 228, 1019), (17.3, 700, 60.7, 911.5), (0.5, 3.5), (21.5, -0.5))
heatmap(E, e_vals, e_names, REDS, 150, 64, e_cols, 915)
E.text(2, 686, "e", size="17px", style="bold")
E.text(3, 940, "Position of additional mutation in RTT (3' to 5')")
for k, s in enumerate(["Intended", "single base", "editing", "frequency", "after", "normalization"]):
    E.text(144, 704 + 12.6 * k, s)
colorbar(E, 144, 154, 780, 822.7, 150, REDS, e_ticks)
E.text(144, 853.3, "Undetermined")
E.text(144, 866.7, "site")
undetermined(E, 144, 874)

# ======================= PANEL f =======================
FF = P2((228, 672, 460, 1019), (268, 738, 425, 910), (-1.02, 3.82), (0.001, 1000), ylog=True)
sc_axes(FF, f_yticks, f_ytl, 268, 736, 4, 910, 268, 425, f_labels, 923, tick=3, gap=3.5)
FF.text(346, 936, "Position of additional mutation in RTT (3' to 5')", align="center")
nlabels(FF, f_n, 950)
dotplot(FF, f_vals, f_med, f_lo, f_hi, ORANGE, dot=2.2, dd=2.6, medw=11, capw=7, null_w=11)
FF.text(235, 686, "f", size="17px", style="bold")
FF.text(232, 824, "Intended single base editing", align="center", angle=math.pi / 2)
FF.text(243.3, 824, "frequency after normalization", align="center", angle=math.pi / 2)
for py, tx, ty, k, eq, txt in zip([760.7, 742.7, 725], [318.5, 335, 350], [754, 733, 717], f_p_to, f_p_eq, f_p):
    bracket(FF, 0, k, py)
    ptext(FF, tx, ty, eq, txt)

# ======================= PANEL g =======================
G = F((460, 672, 788, 840), (460, 672, 788, 840), (460, 788), (840, 672))
G.text(462, 683, "g", size="17px", style="bold")
G.text(511.7, 682.3, "Position in", align="center")
G.text(511.7, 693.3, "RTT (3' to 5')", align="center")
g_centers = [[559.3, 581.5, 603.7], [633.3, 650, 672, 689.5], [724.3, 744.3, 765.8, 782.3]]
GC = {"k": "black", "c": "#37aee6", "b": "#2020d2", "g": "#a9a9a9"}
for orf in range(3):
    for j, (lab, cx) in enumerate(zip(g_pos[orf], g_centers[orf])):
        G.text(cx, 682.3, lab, align="center")
        n = len(lab)
        for ry, pat in [(693.3, "k" * n), (709, g_regular[orf][j]), (739.3, g_one[orf][j]),
                        (775.7, g_two[orf][j] if g_two[orf] else None)]:
            if pat is None:
                continue
            for q, ch in enumerate(pat):
                G.text(cx + (q - (n - 1) / 2) * 5.6, ry, "N", size="9.3px", align="center", color=GC[ch])
for ty, s in [(707.3, "regular"), (718.3, "pegRNA"), (738.3, "spegRNA with"), (749.3, "one SSM"),
              (775, "spegRNA with"), (786, "two SSM")]:
    G.text(511.7, ty, s, align="center")
for cx, s in [(580.7, "SSM in ORF 1"), (662.7, "SSM in ORF 2"), (750.7, "SSM in ORF 3")]:
    G.text(cx, 797.3, s, align="center")
G.text(516.7, 816.7, "N", size="9.3px", align="center", color=GC["c"])
G.text(525, 816.7, "Intended base substitution", size="9.3px")
G.text(659.3, 816.7, "N", size="9.3px", align="center", color=GC["b"])
G.text(667.5, 816.7, "Same sense mutation (SSM)", size="9.3px")


# ======================= PANELS h, i =======================
def hi_panel(box, area, xr, yr, yticks, ytl, gap, vals, med, lo, hi, letter, lx, l1, l2, lxs, lcy, ptxt, pcx):
    Fg = P2(box, area, xr, yr, ylog=True)
    sc_axes(Fg, yticks, ytl, area[0], 851, 2, area[3], area[0], area[2], tick=3, gap=gap)
    kx = Fg.kx()
    for k, s in enumerate(hi_labels):
        Fg.textd(k + 3 * kx, Fg.Y(area[3] + 7), s, size="9.3px", align="right", angle=math.pi / 4)
    dotplot(Fg, [vals], med, lo, hi, "black", dot=3.0, dd=3.2, medw=12, capw=6, null_w=12.5)
    Fg.text(lx, 847, letter, size="17px", style="bold")
    Fg.text(lxs[0], lcy, l1, align="center", angle=math.pi / 2)
    Fg.text(lxs[1], lcy, l2, align="center", angle=math.pi / 2)
    bracket(Fg, 0, 1, 850.7, drop=5)
    ptext(Fg, pcx, 844.5, " = ", ptxt)
    return Fg


H = hi_panel((460, 840, 624, 1019), (528, 853.3, 610, 979.3), (-0.705, 1.436), (0.1, 10000),
             h_yticks, h_ytl, 3.3, h_vals, h_med, h_lo, h_hi, "h", 463,
             "Intended single base editing", "frequency after normalization", (491.5, 503), 912,
             "2.7 × 10⁻⁹", 574)
I = hi_panel((624, 840, 788, 1019), (687, 852.7, 780, 979.3), (-0.7624, 1.6527), (0.1, 10),
             i_yticks, i_ytl, 4, i_vals, i_med, i_lo, i_hi, "i", 648,
             "Unintended indel frequency", "after normalization", (658.5, 671), 916,
             "1.8× 10⁻³", 738)

bandC = row(row(E.p, FF.p), column(G.p, row(H.p, I.p)))

layout = column(bandA, bandB, bandC)
open("out.html", "w").write(file_html(layout, INLINE))
